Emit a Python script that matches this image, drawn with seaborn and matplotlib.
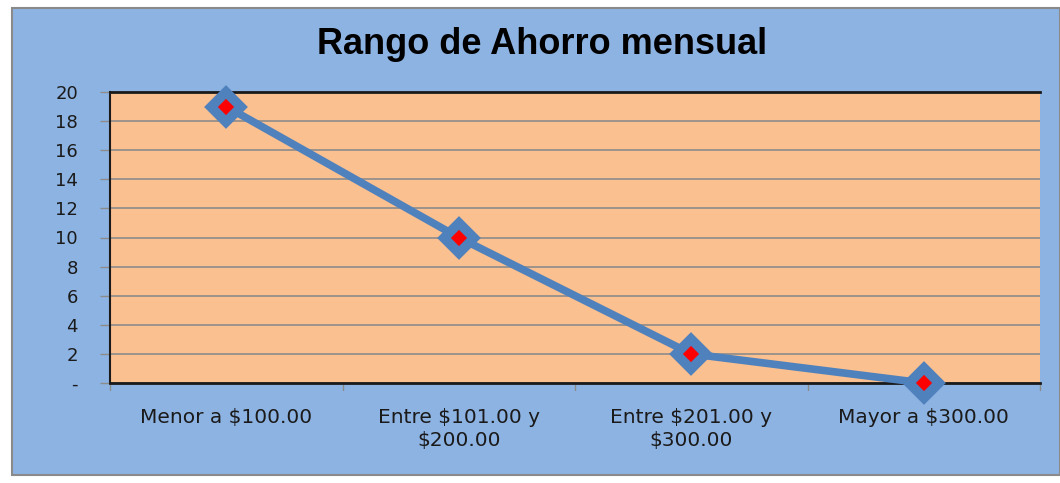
import pandas as pd
import matplotlib.pyplot as plt
import seaborn as sns
from matplotlib.patches import Rectangle

# Data
categorias = ['Menor a $100.00', 'Entre $101.00 y\n$200.00', 'Entre $201.00 y\n$300.00', 'Mayor a $300.00']
valores = [19, 10, 2, 0]
y_ticks = [0, 2, 4, 6, 8, 10, 12, 14, 16, 18, 20]
y_labels = ['-', '2', '4', '6', '8', '10', '12', '14', '16', '18', '20']

df = pd.DataFrame({'pos': range(len(categorias)), 'valor': valores})

sns.set_style("white")
plt.rcParams['font.family'] = ['Liberation Sans', 'DejaVu Sans']

fig = plt.figure(figsize=(10.6, 4.83), dpi=100, facecolor='white')
# blue chart area background
fig.patches.append(Rectangle((12 / 1060, 8 / 483), 1 - 12 / 1060, 1 - 16 / 483,
                             transform=fig.transFigure, facecolor='#8DB3E2',
                             edgecolor='#8a8a8a', linewidth=1.5, zorder=-10))

ax = fig.add_axes([110 / 1060, 1 - 383 / 483, 930 / 1060, 291 / 483])
ax.set_zorder(2)
ax.set_facecolor('#FAC090')

sns.lineplot(data=df, x='pos', y='valor', ax=ax, color='#4F81BD', linewidth=5.5,
             marker='D', markersize=15, markerfacecolor='red',
             markeredgecolor='#4F81BD', markeredgewidth=7, clip_on=False, zorder=5)

ax.set_xlim(-0.5, len(categorias) - 0.5)
ax.set_ylim(0, 20)
ax.set_yticks(y_ticks)
ax.set_yticklabels(y_labels, fontsize=13, family='DejaVu Sans', color='#1a1a1a')
ax.yaxis.grid(True, color='#8c8c8c', linewidth=1.2)
ax.set_axisbelow(True)

ax.set_xticks(range(len(categorias)))
ax.set_xticklabels(categorias, fontsize=14.5, family='DejaVu Sans', color='#1a1a1a',
                   linespacing=1.25)
ax.tick_params(axis='x', length=0, pad=18)
ax.tick_params(axis='y', length=7, width=1, color='#8c8c8c', pad=16, left=True)
# category boundary ticks on x axis
for b in [x - 0.5 for x in range(len(categorias) + 1)]:
    ax.plot([b, b], [0, -0.45], color='#8c8c8c', linewidth=1, clip_on=False)

for s in ['top', 'bottom']:
    ax.spines[s].set_color('#1a1a1a')
    ax.spines[s].set_linewidth(2)
ax.spines['left'].set_color('#1a1a1a')
ax.spines['left'].set_linewidth(1.5)
ax.spines['right'].set_visible(False)
ax.set_xlabel('')
ax.set_ylabel('')

fig.text(542 / 1060, 1 - 45 / 483, 'Rango de Ahorro mensual', ha='center', va='center',
         fontsize=26, fontweight='bold', family='Liberation Sans', color='black', zorder=3)

plt.savefig('out.png', dpi=100, facecolor=fig.get_facecolor())
